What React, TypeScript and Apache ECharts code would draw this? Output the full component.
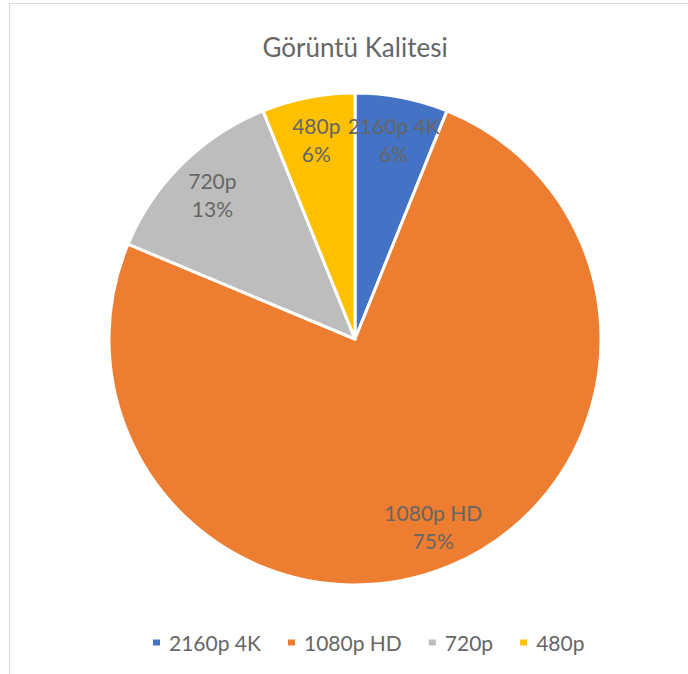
import React, { useEffect, useRef } from "react";
import * as echarts from "echarts";

const categories = ["2160p 4K", "1080p HD", "720p", "480p"];
const values = [6.1, 75.2, 12.6, 6.1];
const colors = ["#4472C4", "#ED7D31", "#BDBDBD", "#FFC000"];
const titleText = "Görüntü Kalitesi";

export default function App() {
  const ref = useRef<HTMLDivElement>(null);
  useEffect(() => {
    if (!ref.current) return;
    const chart = echarts.init(ref.current, null, { renderer: "svg" });
    const total = values.reduce((a, b) => a + b, 0);
    const font = "Lato, 'Open Sans', sans-serif";
    chart.setOption({
      animation: false,
      backgroundColor: "#fff",
      color: colors,
      title: {
        text: titleText,
        left: 350,
        textAlign: "center",
        top: 29,
        textStyle: { color: "#666", fontSize: 26, fontWeight: "normal", fontFamily: font },
      },
      legend: {
        data: categories,
        bottom: 16,
        left: 146,
        icon: "rect",
        itemWidth: 9,
        itemHeight: 8,
        itemGap: 25,
        textStyle: { color: "#666", fontSize: 21, fontFamily: font, padding: [0, 0, 0, 3] },
      },
      graphic: [
        {
          type: "rect",
          shape: { x: 9.5, y: 3.5, width: 700, height: 700 },
          style: { fill: "none", stroke: "#d9d9d9", lineWidth: 1 },
          silent: true,
        },
      ],
      series: [
        {
          type: "pie",
          center: [355, 339],
          radius: [0, 246],
          startAngle: 90,
          clockwise: true,
          label: { show: false },
          labelLine: { show: false },
          itemStyle: { borderColor: "#fff", borderWidth: 3 },
          data: categories.map((name, i) => ({ name, value: values[i] })),
        },
        {
          type: "pie",
          center: [355, 339],
          radius: [154, 246],
          startAngle: 90,
          clockwise: true,
          silent: true,
          legendHoverLink: false,
          itemStyle: { color: "transparent" },
          labelLine: { show: false },
          label: {
            show: true,
            position: "inside",
            color: "#666",
            fontSize: 21,
            lineHeight: 28,
            fontFamily: font,
          },
          data: categories.map((name, i) => ({
            name: name + " ",
            value: values[i],
            label: { formatter: `${name}\n${Math.round((values[i] / total) * 100)}%` },
          })),
        },
      ],
    });
    return () => chart.dispose();
  }, []);
  return <div ref={ref} style={{ position: "absolute", left: 0, top: 0, width: 688, height: 674 }} />;
}
